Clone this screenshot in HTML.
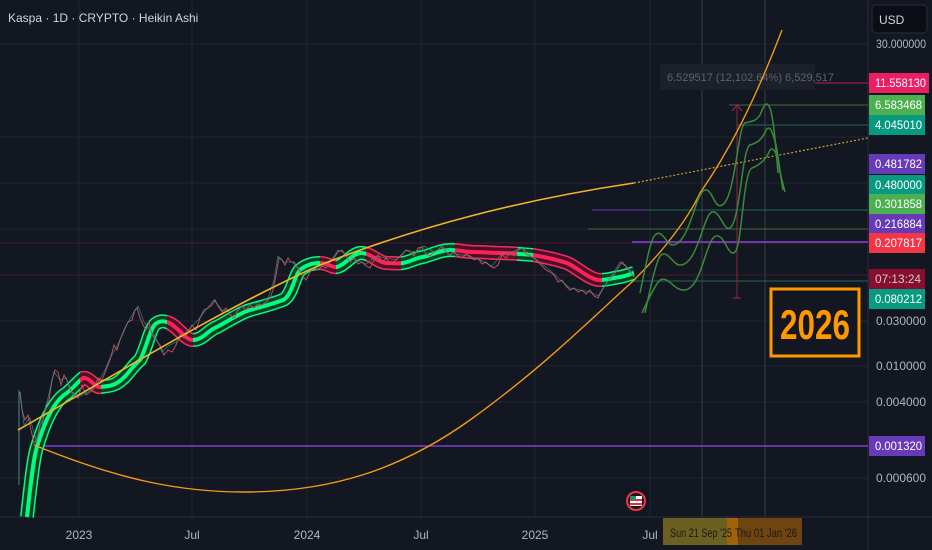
<!DOCTYPE html>
<html><head><meta charset="utf-8"><style>
body{margin:0;background:#131722;width:932px;height:550px;overflow:hidden;font-family:"Liberation Sans",sans-serif}
svg{position:absolute;left:0;top:0}
</style></head><body>
<svg width="932" height="550" viewBox="0 0 932 550">
<defs>
<clipPath id="redc">
<rect x="80" y="0" width="21" height="517"/>
<rect x="167" y="0" width="26" height="517"/>
<rect x="320" y="0" width="16" height="517"/>
<rect x="366" y="0" width="35" height="517"/>
<rect x="455" y="0" width="62" height="517"/>
<rect x="533" y="0" width="69" height="517"/>
</clipPath>
<path id="rib" d="M27 517 C31 480 34 455 37 447 C45 420 55 400 67 393 C75 386 80 380 83 378 C90 377 95 388 100 387 C108 386 112 386 117 383 C128 376 132 366 140 360 C148 345 150 326 157 323 C160 321 163 321 167 322 C178 326 185 340 193 340 C203 340 208 330 217 327 C230 320 240 313 250 310 C265 306 275 303 283 300 C292 296 294 276 300 270 C306 265 312 263 320 263 C328 263 332 268 337 267 C345 265 352 254 360 253 C370 252 378 263 387 263 C395 263 398 264 403 263 C410 262 415 258 423 257 C432 255 440 250 450 250 C460 250 465 252 473 252 C483 252 492 253 500 253 C512 253 520 254 533 255 C545 257 555 259 567 263 C578 268 590 280 600 280 C608 280 612 278 620 277 C626 276 630 274 634 273" fill="none"/>
</defs>
<rect width="932" height="550" fill="#131722"/>
<g stroke="#1f2430" stroke-width="1">
<line x1="0" y1="44" x2="868" y2="44"/><line x1="0" y1="321" x2="868" y2="321"/><line x1="0" y1="366" x2="868" y2="366"/><line x1="0" y1="402" x2="868" y2="402"/><line x1="0" y1="478" x2="868" y2="478"/>
<line x1="0" y1="137" x2="868" y2="137"/><line x1="0" y1="183" x2="868" y2="183"/><line x1="0" y1="229" x2="868" y2="229"/>
<line x1="79" y1="0" x2="79" y2="517"/><line x1="192" y1="0" x2="192" y2="517"/><line x1="307" y1="0" x2="307" y2="517"/><line x1="421" y1="0" x2="421" y2="517"/><line x1="535" y1="0" x2="535" y2="517"/><line x1="650" y1="0" x2="650" y2="517"/>
</g>
<line x1="702" y1="0" x2="702" y2="517" stroke="#3a3d44"/>
<line x1="765" y1="0" x2="765" y2="517" stroke="#3a3d44"/>
<line x1="868" y1="0" x2="868" y2="550" stroke="#2a2e39"/>
<line x1="0" y1="517" x2="932" y2="517" stroke="#2a2e39"/>
<line x1="0" y1="275" x2="868" y2="275" stroke="#4a1a2a"/>
<line x1="0" y1="243" x2="868" y2="243" stroke="#4a1a2a"/>
<line x1="632" y1="242" x2="868" y2="242" stroke="#6a3bb0" stroke-width="2"/>
<line x1="592" y1="210" x2="645" y2="210" stroke="#6a3bb0"/>
<line x1="645" y1="210" x2="868" y2="210" stroke="#1e6b55"/>
<line x1="588" y1="229" x2="868" y2="229" stroke="#3f6b3a"/>
<line x1="620" y1="281" x2="868" y2="281" stroke="#1e6b55"/>
<line x1="765" y1="83" x2="868" y2="83" stroke="#c2185b"/>
<line x1="729" y1="105" x2="868" y2="105" stroke="#3f6b3a"/>
<line x1="737" y1="125" x2="868" y2="125" stroke="#1e6b55"/>
<line x1="34" y1="446" x2="868" y2="446" stroke="#7e3fd0" stroke-width="1.5"/>
<line x1="737" y1="105" x2="737" y2="298" stroke="#8a2a3a"/>
<path d="M732 111 L737 105 L742 111" stroke="#c2185b" fill="none"/>
<line x1="733" y1="298" x2="741" y2="298" stroke="#c2185b"/>
<rect x="660" y="64" width="155" height="26" fill="#1c2029"/>
<text x="667" y="81" fill="#5d6270" font-size="11">6.529517 (12,102.64%) 6,529,517</text>
<!-- ribbon green -->
<use href="#rib" stroke="#00ff80" stroke-width="14"/>
<use href="#rib" stroke="#0b3f26" stroke-width="11"/>
<use href="#rib" stroke="#00ff80" stroke-width="4"/>
<g clip-path="url(#redc)">
<use href="#rib" stroke="#ff1f5a" stroke-width="14"/>
<use href="#rib" stroke="#4a1226" stroke-width="11"/>
<use href="#rib" stroke="#ff1f5a" stroke-width="4"/>
</g>
<!-- candles -->
<polyline points="20,392 22,410 25,420 28,415 31,430 34,443 37,440 40,425 43,420 46,405 49,400 52,380 55,370 58,372 61,385 64,375 67,380 70,390 74,395 78,398 82,385 86,395 90,392 94,388 98,378 102,380 106,370 110,360 114,345 117,350 120,340 124,330 128,322 132,320 135,310 137,308 140,318 143,325 146,330 149,322 152,335 156,340 160,345 164,355 168,350 172,352 176,345 180,335 184,338 188,333 192,325 196,330 200,318 204,310 208,308 212,305 215,300 218,306 222,312 226,308 230,315 234,318 238,310 242,306 246,310 250,305 254,308 258,304 262,305 266,302 270,298 273,290 276,275 279,258 282,260 285,265 288,258 291,262 294,262 298,268 302,275 306,280 310,272 314,268 318,270 322,266 326,268 330,262 334,258 338,252 342,250 346,256 350,262 354,258 358,264 362,262 366,266 370,268 374,260 378,255 382,262 386,258 390,264 394,262 398,258 402,255 406,250 410,252 414,256 418,248 422,247 426,254 430,256 434,252 438,250 442,246 446,252 450,255 454,252 458,256 462,258 466,254 470,256 474,260 478,258 482,264 486,262 490,266 494,268 498,265 502,255 506,258 510,252 514,256 518,250 522,248 526,254 530,256 534,258 538,262 542,266 546,270 550,272 554,275 558,282 562,280 566,286 570,290 574,288 578,292 582,290 586,294 590,290 594,296 598,298 602,290 606,284 610,278 614,275 618,268 622,262 626,266 630,272 634,277" fill="none" stroke="#c24a55" stroke-width="1"/>
<polyline points="20,392 24,425 30,418 36,440 42,426 48,398 54,372 60,380 66,378 72,392 80,396 88,392 96,385 104,372 110,358 116,348 122,336 128,322 134,312 138,306 144,322 150,330 156,338 162,352 168,346 176,342 184,334 190,328 198,320 206,310 214,300 222,310 230,312 240,308 250,304 260,302 268,298 274,280 278,256 284,262 292,262 300,270 310,270 320,266 330,262 338,250 346,254 356,260 366,264 376,256 386,258 396,260 406,250 416,252 424,246 434,252 444,248 456,254 468,256 480,260 492,266 502,254 512,252 522,248 532,256 542,264 552,272 560,280 570,288 580,290 590,292 598,296 606,284 614,272 620,262 628,268 634,276" fill="none" stroke="#26a69a" stroke-width="0.8" opacity="0.7"/>
<line x1="19" y1="390" x2="19" y2="485" stroke="#4a8a80"/>
<!-- yellow trend -->
<path d="M18 430 C120 372 220 310 320 265 C420 226 520 200 634 183" fill="none" stroke="#f0b429" stroke-width="1.6"/>
<path d="M634 183 L868 138" fill="none" stroke="#c9a227" stroke-width="1.2" stroke-dasharray="2,2"/>
<!-- orange bowl -->
<path d="M34 445 C120 480 180 492 244 492 C330 492 400 470 470 420 C540 370 590 320 632 282 C665 250 690 215 700 193 C730 150 755 100 782 30" fill="none" stroke="#f29a1a" stroke-width="1.4"/>
<!-- projections -->
<g fill="none" stroke="#3a8a3a" stroke-width="1.5">
<path d="M640 293 C645 270 650 240 655 235 C662 228 667 245 672 245 C690 245 695 192 705 190 C712 188 715 210 722 205 C735 200 738 125 745 123 C752 121 755 122 760 115 C764 105 766 100 770 108 C774 120 776 150 778 173"/>
<path d="M645 313 C650 290 656 260 661 255 C668 250 673 265 680 265 C698 265 703 215 712 212 C720 210 724 232 730 228 C740 222 742 148 750 145 C757 143 762 140 766 130 C770 125 772 130 776 145 C779 160 781 180 783 190"/>
<path d="M642 313 C648 300 655 285 660 280 C668 275 675 292 685 290 C702 288 706 238 716 236 C725 234 728 258 735 252 C742 246 743 172 752 168 C760 165 766 160 770 150 C775 145 778 160 780 172 C782 180 784 188 785 192"/>
</g>
<!-- 2026 box -->
<rect x="771" y="289" width="88" height="67" fill="#131722" stroke="#ff9800" stroke-width="3"/>
<text x="815" y="339" fill="#ff9800" font-size="42" font-weight="bold" text-anchor="middle" textLength="70" lengthAdjust="spacingAndGlyphs">2026</text>
<!-- flag -->
<circle cx="636" cy="501" r="9" fill="#131722" stroke="#f23645" stroke-width="2"/>
<rect x="630" y="496" width="12" height="10" fill="#fff"/><rect x="630" y="499" width="12" height="2" fill="#e03040"/><rect x="630" y="503" width="12" height="2" fill="#e03040"/><rect x="630" y="496" width="6" height="4" fill="#2a8a6a"/>
<text x="8" y="22" fill="#d1d4dc" font-size="12">Kaspa · 1D · CRYPTO · Heikin Ashi</text>
<rect x="872" y="5" width="55" height="28" rx="4" fill="#0c0e15" stroke="#2a2e39"/>
<text x="879" y="24" fill="#d1d4dc" font-size="12">USD</text>
<g font-size="12" fill="#b2b5be">
<text x="876" y="48" textLength="50" lengthAdjust="spacingAndGlyphs">30.000000</text>
<text x="876" y="325" textLength="50" lengthAdjust="spacingAndGlyphs">0.030000</text>
<text x="876" y="370" textLength="50" lengthAdjust="spacingAndGlyphs">0.010000</text>
<text x="876" y="406" textLength="50" lengthAdjust="spacingAndGlyphs">0.004000</text>
<text x="876" y="482" textLength="50" lengthAdjust="spacingAndGlyphs">0.000600</text>
</g>
<g font-size="12" fill="#fff">
<rect x="869" y="73" width="60" height="20" fill="#e91e63"/><text x="875" y="87" textLength="51" lengthAdjust="spacingAndGlyphs">11.558130</text>
<rect x="869" y="95" width="56" height="20" fill="#4caf50"/><text x="875" y="109" textLength="47" lengthAdjust="spacingAndGlyphs">6.583468</text>
<rect x="869" y="115" width="56" height="20" fill="#089981"/><text x="875" y="129" textLength="47" lengthAdjust="spacingAndGlyphs">4.045010</text>
<rect x="869" y="154" width="56" height="20" fill="#673ab7"/><text x="875" y="168" textLength="47" lengthAdjust="spacingAndGlyphs">0.481782</text>
<rect x="869" y="175" width="56" height="20" fill="#089981"/><text x="875" y="189" textLength="47" lengthAdjust="spacingAndGlyphs">0.480000</text>
<rect x="869" y="194" width="56" height="20" fill="#4caf50"/><text x="875" y="208" textLength="47" lengthAdjust="spacingAndGlyphs">0.301858</text>
<rect x="869" y="214" width="56" height="20" fill="#673ab7"/><text x="875" y="228" textLength="47" lengthAdjust="spacingAndGlyphs">0.216884</text>
<rect x="869" y="233" width="56" height="20" fill="#f23645"/><text x="875" y="247" textLength="47" lengthAdjust="spacingAndGlyphs">0.207817</text>
<rect x="869" y="269" width="56" height="20" fill="#880e2f"/><text x="875" y="283" fill="#ccc" textLength="46" lengthAdjust="spacingAndGlyphs">07:13:24</text>
<rect x="869" y="289" width="56" height="20" fill="#089981"/><text x="875" y="303" textLength="47" lengthAdjust="spacingAndGlyphs">0.080212</text>
<rect x="869" y="436" width="56" height="20" fill="#673ab7"/><text x="875" y="450" textLength="47" lengthAdjust="spacingAndGlyphs">0.001320</text>
</g>
<g font-size="12" fill="#b2b5be" text-anchor="middle">
<text x="79" y="539">2023</text><text x="192" y="539">Jul</text><text x="307" y="539">2024</text><text x="421" y="539">Jul</text><text x="535" y="539">2025</text><text x="650" y="539">Jul</text>
</g>
<rect x="663" y="518" width="75" height="27" fill="#6b5f22"/>
<rect x="727" y="518" width="75" height="27" fill="#6e4410"/>
<rect x="727" y="518" width="11" height="27" fill="#a0620a"/>
<text x="670" y="537" fill="#1a1a1a" font-size="12" textLength="62" lengthAdjust="spacingAndGlyphs">Sun 21 Sep '25</text>
<text x="735" y="537" fill="#1a1a1a" font-size="12" textLength="62" lengthAdjust="spacingAndGlyphs">Thu 01 Jan '26</text>
</svg>
</body></html>
